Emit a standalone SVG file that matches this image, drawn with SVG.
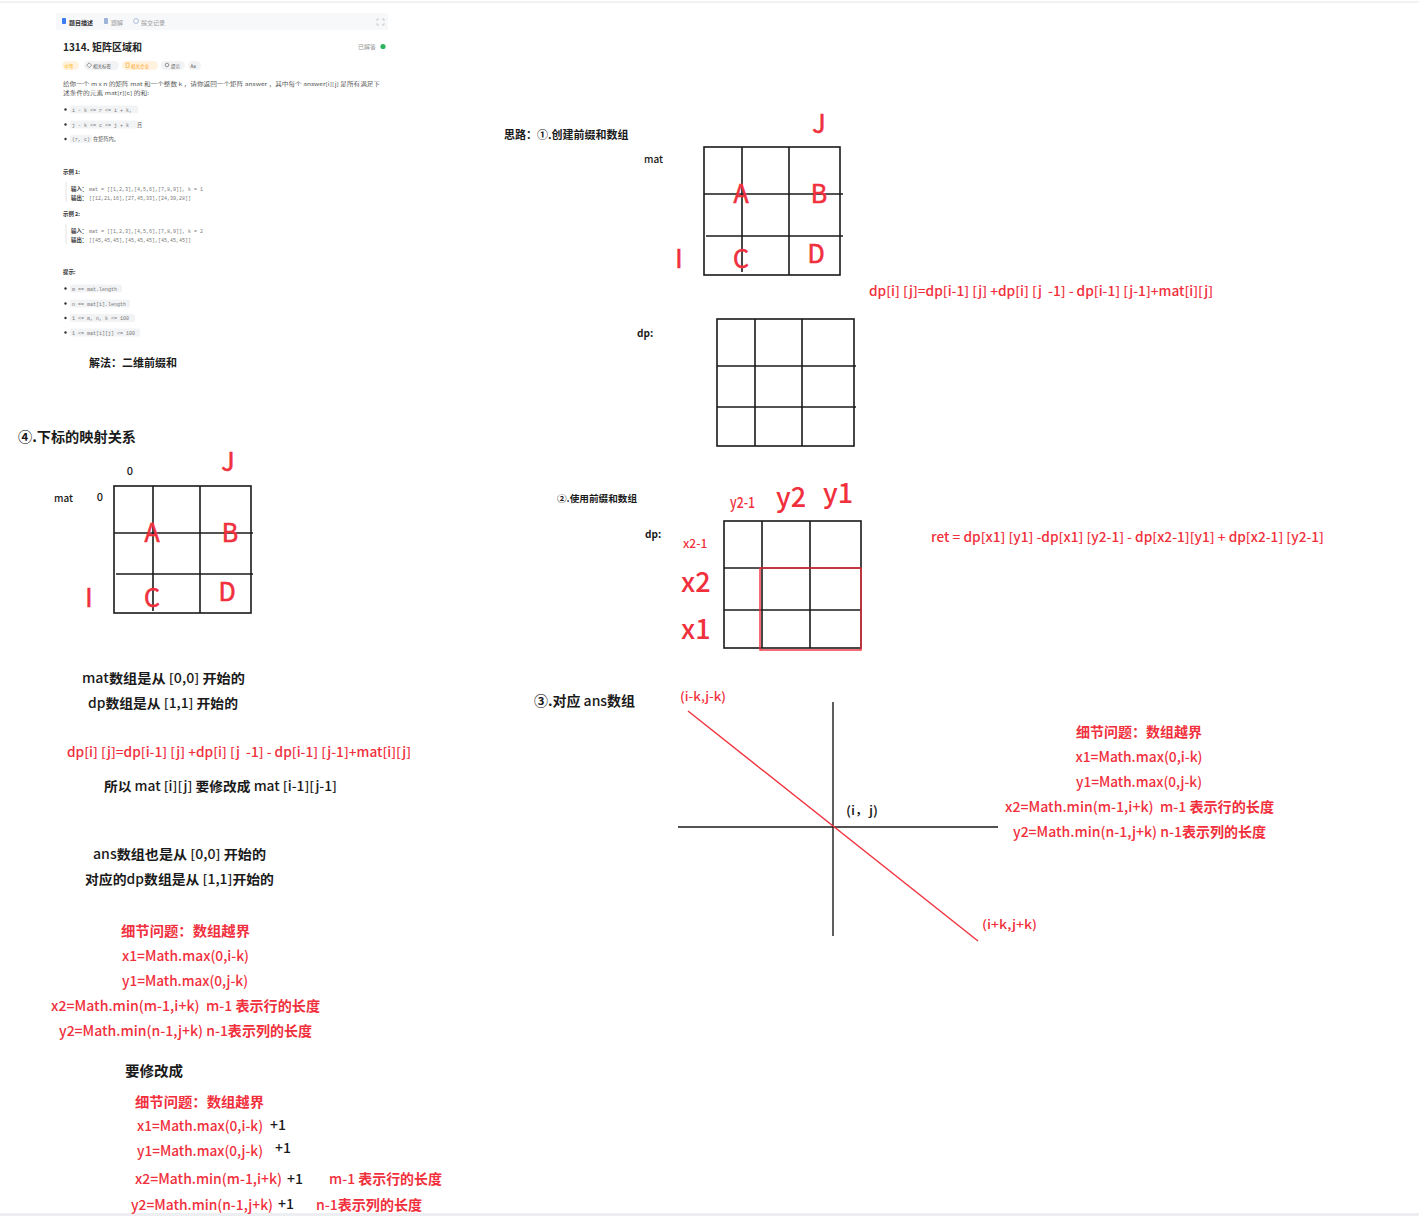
<svg xmlns="http://www.w3.org/2000/svg" width="1419" height="1216" viewBox="0 0 1419 1216">
<style>
text{font-family:"Noto Sans CJK SC","Noto Sans",sans-serif;}
.k{fill:#1a1a1a;}
.r{fill:#f0303c;}
.g{stroke:#1a1a1a;stroke-width:1.6;fill:none;}
.rl{stroke:#f0303c;stroke-width:1.4;fill:none;}
.big{font-size:25px;fill:#f0303c;stroke:#f0303c;stroke-width:0.6;}
.t13{font-size:13px;font-weight:500;}
.t14{font-size:14px;font-weight:500;}
.sm{font-size:5.2px;fill:#555;}
.smb{font-size:5.4px;fill:#333;font-weight:bold;}
.code{font-family:"Liberation Mono","DejaVu Sans Mono",monospace;font-size:5px;fill:#777;}
.cbg{fill:#f2f3f5;}
.tag{fill:#f2f3f5;}
.tago{fill:#fff3e0;}
.b{font-weight:bold;}
</style>
<rect x="0" y="0" width="1419" height="1216" fill="#ffffff"/>
<line x1="0" y1="2" x2="1419" y2="2" stroke="#e3e5e8" stroke-width="1"/>
<rect x="0" y="1213" width="1419" height="3" fill="#eceef1"/>

<g id="problem-panel">
  <rect x="56" y="13" width="332" height="17" fill="#f7f8fa"/>
  <rect x="62" y="18" width="4" height="6" rx="0.8" fill="#3b7cf5"/>
  <text x="69" y="24.5" font-size="6" class="b" fill="#333">题目描述</text>
  <rect x="104" y="18" width="4" height="6" rx="0.8" fill="#9db3d8"/>
  <text x="111" y="24.5" font-size="6" fill="#999">题解</text>
  <circle cx="136" cy="21" r="2.5" fill="none" stroke="#9db3d8" stroke-width="0.8"/>
  <text x="141" y="24.5" font-size="6" fill="#999">提交记录</text>
  <path d="M377 19h2M377 19v2M384 19h-2M384 19v2M377 25h2M377 25v-2M384 25h-2M384 25v-2" stroke="#bbb" stroke-width="0.7" fill="none"/>

  <text x="63" y="50.5" font-size="10" class="b" fill="#262626">1314. 矩阵区域和</text>
  <text x="358" y="49" font-size="6" fill="#999">已解答</text>
  <circle cx="383" cy="46.5" r="2.6" fill="#2db55d"/>

  <rect x="62" y="61" width="17" height="9" rx="4.5" class="tago"/>
  <text x="64.5" y="67.7" font-size="4.5" fill="#ffb800">中等</text>
  <rect x="84" y="61" width="35" height="9" rx="4.5" class="tag"/>
  <rect x="87.5" y="63.5" width="3.5" height="3.5" fill="none" stroke="#666" stroke-width="0.6" transform="rotate(45 89.2 65.2)"/>
  <text x="93" y="67.7" font-size="4.5" fill="#555">相关标签</text>
  <rect x="122" y="61" width="36" height="9" rx="4.5" class="tago"/>
  <rect x="126" y="63" width="3" height="4.5" fill="none" stroke="#ffa116" stroke-width="0.6"/>
  <text x="131" y="67.7" font-size="4.5" fill="#ffa116">相关企业</text>
  <rect x="161" y="61" width="24" height="9" rx="4.5" class="tag"/>
  <circle cx="167" cy="65" r="1.8" fill="none" stroke="#555" stroke-width="0.6"/>
  <text x="171" y="67.7" font-size="4.5" fill="#555">提示</text>
  <rect x="188" y="61" width="13" height="9" rx="4.5" class="tag"/>
  <text x="190.5" y="67.7" font-size="4.5" fill="#555">Aa</text>

  <text x="63" y="85.5" class="sm" textLength="317" lengthAdjust="spacingAndGlyphs">给你一个 m x n 的矩阵 mat 和一个整数 k ，请你返回一个矩阵 answer ，其中每个 answer[i][j] 是所有满足下</text>
  <text x="63" y="94.5" class="sm" textLength="86" lengthAdjust="spacingAndGlyphs">述条件的元素 mat[r][c] 的和:</text>

  <circle cx="65.5" cy="109.5" r="1.2" fill="#333"/>
  <rect x="70" y="105.5" width="68" height="8" rx="1.5" class="cbg"/>
  <text x="72" y="111.5" class="code">i - k &lt;= r &lt;= i + k,</text>
  <circle cx="65.5" cy="124.5" r="1.2" fill="#333"/>
  <rect x="70" y="120.5" width="68" height="8" rx="1.5" class="cbg"/>
  <text x="72" y="126.5" class="code">j - k &lt;= c &lt;= j + k</text>
  <text x="137" y="126.7" class="sm">且</text>
  <circle cx="65.5" cy="139" r="1.2" fill="#333"/>
  <rect x="70" y="135" width="22" height="8" rx="1.5" class="cbg"/>
  <text x="72" y="141" class="code">(r, c)</text>
  <text x="93" y="141.2" class="sm">在矩阵内。</text>

  <text x="63" y="174" class="smb">示例 1:</text>
  <line x1="66" y1="182" x2="66" y2="202" stroke="#ddd" stroke-width="0.8"/>
  <text x="71" y="190.5" class="smb">输入：</text>
  <text x="89" y="190.5" class="code">mat = [[1,2,3],[4,5,6],[7,8,9]], k = 1</text>
  <text x="71" y="199.5" class="smb">输出：</text>
  <text x="89" y="199.5" class="code">[[12,21,16],[27,45,33],[24,39,28]]</text>

  <text x="63" y="216" class="smb">示例 2:</text>
  <line x1="66" y1="224" x2="66" y2="244" stroke="#ddd" stroke-width="0.8"/>
  <text x="71" y="232.5" class="smb">输入：</text>
  <text x="89" y="232.5" class="code">mat = [[1,2,3],[4,5,6],[7,8,9]], k = 2</text>
  <text x="71" y="241.5" class="smb">输出：</text>
  <text x="89" y="241.5" class="code">[[45,45,45],[45,45,45],[45,45,45]]</text>

  <text x="63" y="274" class="smb">提示:</text>
  <circle cx="65.5" cy="288.5" r="1.2" fill="#333"/>
  <rect x="70" y="284.5" width="52" height="8" rx="1.5" class="cbg"/>
  <text x="72" y="290.5" class="code">m == mat.length</text>
  <circle cx="65.5" cy="303.5" r="1.2" fill="#333"/>
  <rect x="70" y="299.5" width="60" height="8" rx="1.5" class="cbg"/>
  <text x="72" y="305.5" class="code">n == mat[i].length</text>
  <circle cx="65.5" cy="318" r="1.2" fill="#333"/>
  <rect x="70" y="314" width="65" height="8" rx="1.5" class="cbg"/>
  <text x="72" y="320" class="code">1 &lt;= m, n, k &lt;= 100</text>
  <circle cx="65.5" cy="332.5" r="1.2" fill="#333"/>
  <rect x="70" y="328.5" width="70" height="8" rx="1.5" class="cbg"/>
  <text x="72" y="334.5" class="code">1 &lt;= mat[i][j] &lt;= 100</text>
</g>

<g id="solution-title">
  <text x="89" y="367" font-size="11" class="k b">解法：二维前缀和</text>
</g>

<g id="step1">
  <text x="504" y="139" font-size="11" class="k b">思路：①.创建前缀和数组</text>
  <text x="644" y="163" font-size="10" class="k" font-weight="500">mat</text>
  <text x="819" y="133" class="big" font-size="23" text-anchor="middle">J</text>
  <rect x="704" y="147" width="136" height="128" class="g"/>
  <line x1="742" y1="147" x2="742" y2="272" class="g"/>
  <line x1="789" y1="147" x2="789" y2="275" class="g"/>
  <line x1="704" y1="194" x2="843" y2="194" class="g"/>
  <line x1="706" y1="236" x2="843" y2="236" class="g"/>
  <text x="741" y="203" class="big" text-anchor="middle">A</text>
  <text x="819" y="203" class="big" text-anchor="middle">B</text>
  <text x="741" y="268" class="big" text-anchor="middle">C</text>
  <text x="816" y="263" class="big" text-anchor="middle">D</text>
  <text x="679" y="268" class="big" text-anchor="middle">I</text>
  <text x="869" y="296" class="r t13" textLength="344" lengthAdjust="spacingAndGlyphs">dp[i] [j]=dp[i-1] [j] +dp[i] [j&#160; -1] - dp[i-1] [j-1]+mat[i][j]</text>
</g>

<g id="dp-grid">
  <text x="637" y="337" font-size="10" class="k b">dp:</text>
  <rect x="717" y="319" width="137" height="127" class="g"/>
  <line x1="755" y1="319" x2="755" y2="446" class="g"/>
  <line x1="802" y1="319" x2="802" y2="446" class="g"/>
  <line x1="717" y1="366" x2="856" y2="366" class="g"/>
  <line x1="717" y1="407" x2="856" y2="407" class="g"/>
</g>

<g id="step2">
  <text x="557" y="502" font-size="9.5" class="k b" textLength="80" lengthAdjust="spacingAndGlyphs">②.使用前缀和数组</text>
  <text x="730" y="508" font-size="15" class="r" font-weight="500" textLength="25" lengthAdjust="spacingAndGlyphs">y2-1</text>
  <text x="776" y="507" font-size="27" class="r" font-weight="500">y2</text>
  <text x="823" y="503" font-size="27" class="r" font-weight="500">y1</text>
  <text x="645" y="538" font-size="10" class="k b">dp:</text>
  <text x="683" y="548" font-size="12" class="r" font-weight="500">x2-1</text>
  <text x="681" y="592" font-size="27" class="r" font-weight="500">x2</text>
  <text x="681" y="639" font-size="27" class="r" font-weight="500">x1</text>
  <rect x="724" y="521" width="137" height="127" class="g"/>
  <line x1="762" y1="521" x2="762" y2="648" class="g"/>
  <line x1="810" y1="521" x2="810" y2="648" class="g"/>
  <line x1="724" y1="568" x2="861" y2="568" class="g"/>
  <line x1="724" y1="610" x2="861" y2="610" class="g"/>
  <rect x="760" y="568" width="101" height="82" class="rl"/>
  <text x="931" y="542" class="r t13" textLength="393" lengthAdjust="spacingAndGlyphs">ret = dp[x1] [y1] -dp[x1] [y2-1] - dp[x2-1][y1] + dp[x2-1] [y2-1]</text>
</g>

<g id="step3">
  <text x="534" y="706" font-size="13.5" class="k" font-weight="500" textLength="101" lengthAdjust="spacingAndGlyphs"><tspan class="b">③.对应 </tspan>ans<tspan class="b">数组</tspan></text>
  <text x="680" y="701" font-size="12.5" class="r" font-weight="500" textLength="46" lengthAdjust="spacingAndGlyphs">(i-k,j-k)</text>
  <text x="846" y="815" font-size="12.5" class="k" font-weight="500" textLength="32" lengthAdjust="spacingAndGlyphs">(i，j)</text>
  <text x="982" y="929" font-size="12" class="r" font-weight="500" textLength="55" lengthAdjust="spacingAndGlyphs">(i+k,j+k)</text>
  <g id="right-detail">
    <text x="1139" y="737" class="r t14 b" text-anchor="middle">细节问题：数组越界</text>
    <text x="1139" y="762" class="r t14" text-anchor="middle" textLength="127" lengthAdjust="spacingAndGlyphs">x1=Math.max(0,i-k)</text>
    <text x="1139" y="787" class="r t14" text-anchor="middle" textLength="126" lengthAdjust="spacingAndGlyphs">y1=Math.max(0,j-k)</text>
    <text x="1005" y="812" class="r t14" textLength="269" lengthAdjust="spacingAndGlyphs">x2=Math.min(m-1,i+k)&#160; m-1 <tspan class="b">表示行的长度</tspan></text>
    <text x="1013" y="837" class="r t14" textLength="253" lengthAdjust="spacingAndGlyphs">y2=Math.min(n-1,j+k) n-1<tspan class="b">表示列的长度</tspan></text>
  </g>
</g>

<g id="step4">
  <text x="18" y="442" font-size="14" class="k b" textLength="118" lengthAdjust="spacingAndGlyphs">④.下标的映射关系</text>
  <text x="130" y="475" font-size="11" class="k" font-weight="500" text-anchor="middle">0</text>
  <text x="228" y="471" class="big" font-size="23" text-anchor="middle">J</text>
  <text x="54" y="502" font-size="10" class="k" font-weight="500">mat</text>
  <text x="100" y="501" font-size="11" class="k" font-weight="500" text-anchor="middle">0</text>
  <rect x="114" y="486" width="137" height="127" class="g"/>
  <line x1="153" y1="486" x2="153" y2="611" class="g"/>
  <line x1="200" y1="486" x2="200" y2="613" class="g"/>
  <line x1="114" y1="533" x2="253" y2="533" class="g"/>
  <line x1="116" y1="574" x2="253" y2="574" class="g"/>
  <text x="152" y="542" class="big" text-anchor="middle">A</text>
  <text x="230" y="542" class="big" text-anchor="middle">B</text>
  <text x="152" y="607" class="big" text-anchor="middle">C</text>
  <text x="227" y="601" class="big" text-anchor="middle">D</text>
  <text x="89" y="607" class="big" text-anchor="middle">I</text>
</g>

<g id="mapping-notes">
  <text x="82" y="683" class="k t13" textLength="163" lengthAdjust="spacingAndGlyphs">mat<tspan class="b">数组是从</tspan> [0,0] <tspan class="b">开始的</tspan></text>
  <text x="88" y="708" class="k t13" textLength="150" lengthAdjust="spacingAndGlyphs">dp<tspan class="b">数组是从</tspan> [1,1] <tspan class="b">开始的</tspan></text>
  <text x="67" y="757" class="r t13" textLength="344" lengthAdjust="spacingAndGlyphs">dp[i] [j]=dp[i-1] [j] +dp[i] [j&#160; -1] - dp[i-1] [j-1]+mat[i][j]</text>
  <text x="104" y="791" class="k t13" textLength="233" lengthAdjust="spacingAndGlyphs"><tspan class="b">所以</tspan> mat [i][j] <tspan class="b">要修改成</tspan> mat [i-1][j-1]</text>
  <text x="93" y="859" class="k t13" textLength="173" lengthAdjust="spacingAndGlyphs">ans<tspan class="b">数组也是从</tspan> [0,0] <tspan class="b">开始的</tspan></text>
  <text x="85" y="884" class="k t13" textLength="189" lengthAdjust="spacingAndGlyphs"><tspan class="b">对应的</tspan>dp<tspan class="b">数组是从</tspan> [1,1]<tspan class="b">开始的</tspan></text>
</g>

<g id="left-detail">
  <text x="121" y="936" class="r t14 b" textLength="129" lengthAdjust="spacingAndGlyphs">细节问题：数组越界</text>
  <text x="122" y="961" class="r t14" textLength="127" lengthAdjust="spacingAndGlyphs">x1=Math.max(0,i-k)</text>
  <text x="122" y="986" class="r t14" textLength="126" lengthAdjust="spacingAndGlyphs">y1=Math.max(0,j-k)</text>
  <text x="51" y="1011" class="r t14" textLength="269" lengthAdjust="spacingAndGlyphs">x2=Math.min(m-1,i+k)&#160; m-1 <tspan class="b">表示行的长度</tspan></text>
  <text x="59" y="1036" class="r t14" textLength="253" lengthAdjust="spacingAndGlyphs">y2=Math.min(n-1,j+k) n-1<tspan class="b">表示列的长度</tspan></text>
</g>

<g id="modified-detail">
  <text x="125" y="1076" class="k t14 b" textLength="58" lengthAdjust="spacingAndGlyphs">要修改成</text>
  <text x="135" y="1107" class="r t14 b" textLength="129" lengthAdjust="spacingAndGlyphs">细节问题：数组越界</text>
  <text x="137" y="1131" class="r t14" textLength="126" lengthAdjust="spacingAndGlyphs">x1=Math.max(0,i-k)</text>
  <text x="270" y="1130" class="k t14">+1</text>
  <text x="137" y="1156" class="r t14" textLength="126" lengthAdjust="spacingAndGlyphs">y1=Math.max(0,j-k)</text>
  <text x="275" y="1153" class="k t14">+1</text>
  <text x="135" y="1184" class="r t14" textLength="147" lengthAdjust="spacingAndGlyphs">x2=Math.min(m-1,i+k)</text>
  <text x="287" y="1184" class="k t14">+1</text>
  <text x="329" y="1184" class="r t14" textLength="113" lengthAdjust="spacingAndGlyphs">m-1 <tspan class="b">表示行的长度</tspan></text>
  <text x="131" y="1210" class="r t14" textLength="142" lengthAdjust="spacingAndGlyphs">y2=Math.min(n-1,j+k)</text>
  <text x="278" y="1209" class="k t14">+1</text>
  <text x="316" y="1210" class="r t14" textLength="106" lengthAdjust="spacingAndGlyphs">n-1<tspan class="b">表示列的长度</tspan></text>
</g>

<g id="connectors">
  <line x1="678" y1="827" x2="998" y2="827" stroke="#1a1a1a" stroke-width="1.4"/>
  <line x1="833" y1="702" x2="833" y2="936" stroke="#1a1a1a" stroke-width="1.4"/>
  <line x1="688" y1="711" x2="978" y2="941" stroke="#f0303c" stroke-width="1.4"/>
</g>
</svg>
